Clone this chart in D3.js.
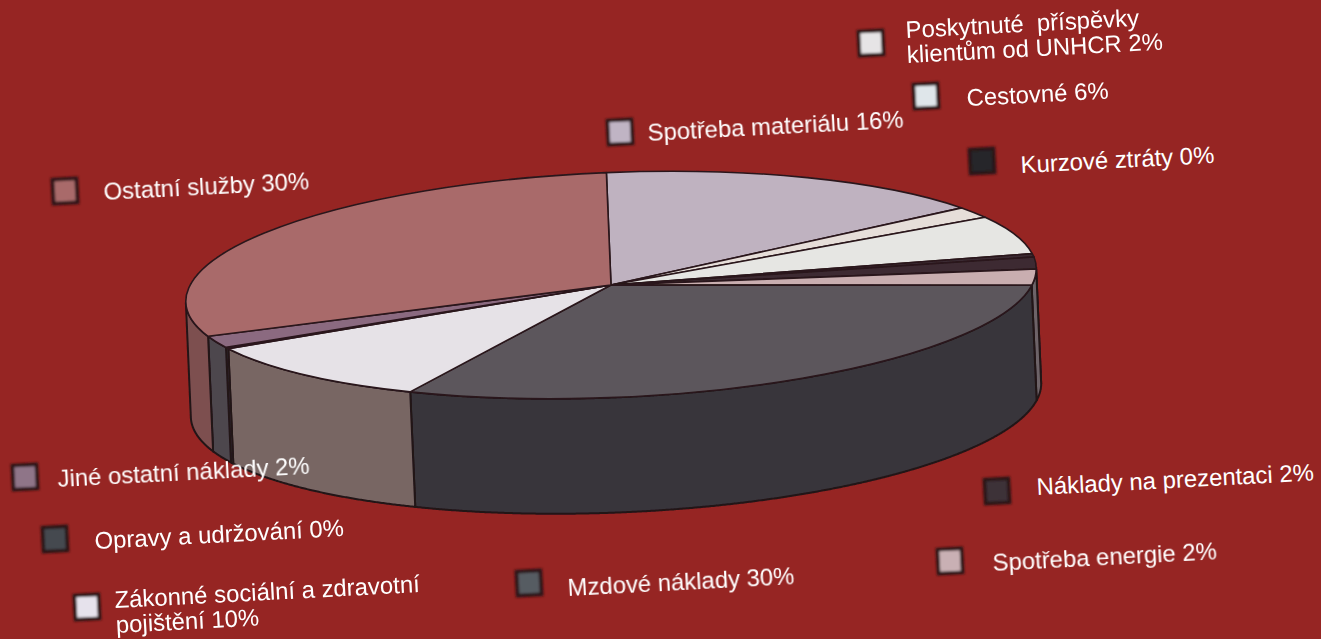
<!DOCTYPE html>
<html>
<head>
<meta charset="utf-8">
<style>
html, body { margin: 0; padding: 0; background: #962523; overflow: hidden; }
text { font-family: "Liberation Sans", Arial, sans-serif; fill: #fff; }
</style>
<script src="https://cdn.jsdelivr.net/npm/d3@7"></script>
</head>
<body>
<div id="chart"></div>
<script>
// slices clockwise from the top of the pie, shares
const categories = [
	"Spotřeba materiálu",
	"Poskytnuté příspěvky klientům od UNHCR",
	"Cestovné",
	"Kurzové ztráty",
	"Náklady na prezentaci",
	"Spotřeba energie",
	"Mzdové náklady",
	"Zákonné sociální a zdravotní pojištění",
	"Opravy a udržování",
	"Jiné ostatní náklady",
	"Ostatní služby",
];
const shares = [15.6, 1.7, 5.7, 0.5, 1.7, 2.3, 30.5, 10, 0.2, 1.8, 30];
const labelLines = [
	["Spotřeba materiálu 16%"],
	["Poskytnuté  příspěvky", "klientům od UNHCR 2%"],
	["Cestovné 6%"],
	["Kurzové ztráty 0%"],
	["Náklady na prezentaci 2%"],
	["Spotřeba energie 2%"],
	["Mzdové náklady 30%"],
	["Zákonné sociální a zdravotní", "pojištění 10%"],
	["Opravy a udržování 0%"],
	["Jiné ostatní náklady 2%"],
	["Ostatní služby 30%"],
];
const topColors = ["#bfb2c0", "#e6ded9", "#e6e6e3", "#3a2a31", "#3d2c33", "#c9aeb0", "#5c565c", "#e6e2e7", "#4a4650", "#8b6a80", "#a96a6a"];
const wallColors = ["#8d828d", "#a8a09c", "#a8a8a5", "#2c2428", "#2e2a2e", "#6d6468", "#38353a", "#786664", "#4a4650", "#4e464e", "#7d4f50"];
const swatchColors = ["#c0b4c4", "#e6e4e6", "#dfe6ea", "#26282b", "#3c3238", "#c9b0b4", "#565c62", "#e6e2ec", "#444850", "#8f7488", "#a96a6a"];

// legend placement: swatch centre, then left end of the first baseline
const swatchSpots = [[620, 132], [871, 43], [926, 96], [982, 161], [997, 491], [950, 561], [529, 583], [87, 607], [55, 539], [25, 477], [65, 191]];
const labelSpots = [[648, 141], [906, 38], [967, 106], [1021, 173], [1037, 495], [993, 571], [568, 596], [115, 608], [95, 549], [58, 487], [104, 200]];

const width = 1321;
const height = 639;
const cx = 611;
const cy = 285;
const rx = 425.5;
const ry = 112.5;
const tilt = (-2.35 * Math.PI) / 180;
const depth = [5, 115];

const svg = d3
	.select("#chart")
	.append("svg")
	.attr("width", width)
	.attr("height", height)
	.style("display", "block");

const defs = svg.append("defs");
defs.append("filter").attr("id", "soft").append("feGaussianBlur").attr("stdDeviation", 0.5);
defs.append("filter").attr("id", "softer").append("feGaussianBlur").attr("stdDeviation", 0.8);

const pie = d3.pie().sort(null).startAngle(0).endAngle(2 * Math.PI);
const slices = pie(shares);
const arc = d3.arc().innerRadius(0).outerRadius(1);

// point on the top rim for a pie angle (0 = top, clockwise)
const rim = (t) => {
	const lx = rx * Math.sin(t);
	const ly = -ry * Math.cos(t);
	return [
		cx + lx * Math.cos(tilt) - ly * Math.sin(tilt),
		cy + lx * Math.sin(tilt) + ly * Math.cos(tilt),
	];
};
const below = (p) => [p[0] + depth[0], p[1] + depth[1]];

// the wall shows only where the rim tangent turns away from the extrusion
const facesViewer = (t) => {
	const a = rim(t - 0.001);
	const b = rim(t + 0.001);
	return (b[0] - a[0]) * depth[1] - (b[1] - a[1]) * depth[0] < 0;
};

const line = d3.line();
const g = svg.append("g").attr("filter", "url(#soft)");

// walls
slices.forEach((s, i) => {
	const steps = Math.max(2, Math.ceil((s.endAngle - s.startAngle) / 0.004));
	const ts = d3
		.range(steps + 1)
		.map((k) => s.startAngle + ((s.endAngle - s.startAngle) * k) / steps)
		.filter(facesViewer);
	if (ts.length < 2) return;
	const upper = ts.map(rim);
	const lower = ts.map(rim).map(below).reverse();
	g.append("path")
		.attr("d", `${line(upper.concat(lower))}Z`)
		.attr("fill", wallColors[i])
		.attr("stroke", "#221418")
		.attr("stroke-width", 2)
		.attr("stroke-linejoin", "round");
});

// top surface, unit-radius arcs squashed into the ellipse
g.append("g")
	.attr("transform", `translate(${cx},${cy}) rotate(${(tilt * 180) / Math.PI}) scale(${rx},${ry})`)
	.selectAll("path")
	.data(slices)
	.join("path")
	.attr("d", arc)
	.attr("fill", (d, i) => topColors[i])
	.attr("stroke", "#2a171b")
	.attr("stroke-width", 1.6)
	.attr("vector-effect", "non-scaling-stroke")
	.attr("stroke-linejoin", "round");

// legend swatches
svg
	.append("g")
	.attr("filter", "url(#softer)")
	.selectAll("rect")
	.data(categories)
	.join("rect")
	.attr("x", -12)
	.attr("y", -12)
	.attr("width", 24)
	.attr("height", 24)
	.attr("transform", (d, i) => `translate(${swatchSpots[i]}) rotate(-3)`)
	.attr("fill", (d, i) => swatchColors[i])
	.attr("stroke", "#2a1316")
	.attr("stroke-width", 3.5);

// labels
const labels = svg
	.append("g")
	.selectAll("text")
	.data(labelLines)
	.join("text")
	.attr("transform", (d, i) => `translate(${labelSpots[i]}) rotate(-3)`)
	.attr("font-size", 23.9)
	.attr("xml:space", "preserve")
	.style("white-space", "pre");

labels
	.selectAll("tspan")
	.data((d) => d)
	.join("tspan")
	.attr("x", 0)
	.attr("dy", (d, i) => (i ? 25 : 0))
	.text((d) => d);
</script>
</body>
</html>
